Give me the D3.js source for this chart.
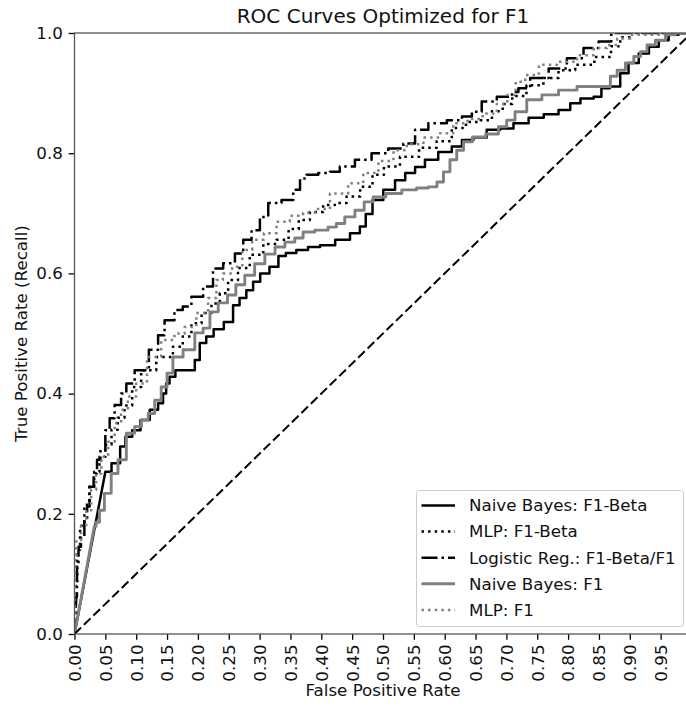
<!DOCTYPE html>
<html>
<head>
<meta charset="utf-8">
<script src="https://cdn.jsdelivr.net/npm/d3@7"></script>
<style>
  body { margin: 0; background: #fff; }
  svg { display: block; font-family: "DejaVu Sans", sans-serif; }
  .axis text { font-size: 16.7px; fill: #111; font-family: "DejaVu Sans", sans-serif; }
</style>
</head>
<body>
<svg width="686" height="710"></svg>
<script>
// values: [false positive rate, true positive rate]
const nbBeta = [
  [0, 0], [0.05, 0.27], [0.07, 0.284], [0.078, 0.312], [0.087, 0.328], [0.1, 0.339],
  [0.114, 0.356], [0.13, 0.373], [0.141, 0.384], [0.146, 0.4], [0.151, 0.417],
  [0.157, 0.428], [0.17, 0.439], [0.192, 0.439], [0.198, 0.456], [0.208, 0.484],
  [0.219, 0.495], [0.232, 0.507], [0.252, 0.519], [0.262, 0.547], [0.273, 0.559],
  [0.284, 0.572], [0.295, 0.586], [0.307, 0.6], [0.325, 0.611], [0.336, 0.629],
  [0.349, 0.634], [0.37, 0.639], [0.387, 0.644], [0.409, 0.647], [0.436, 0.656],
  [0.457, 0.667], [0.468, 0.678], [0.476, 0.699], [0.49, 0.722], [0.511, 0.739],
  [0.528, 0.755], [0.544, 0.767], [0.56, 0.777], [0.576, 0.789], [0.603, 0.802],
  [0.62, 0.811], [0.636, 0.822], [0.657, 0.826], [0.679, 0.839], [0.701, 0.841],
  [0.722, 0.85], [0.75, 0.859], [0.771, 0.865], [0.798, 0.872], [0.809, 0.883],
  [0.831, 0.891], [0.852, 0.894], [0.856, 0.908], [0.879, 0.911], [0.89, 0.933],
  [0.906, 0.95], [0.923, 0.966], [0.939, 0.977], [0.955, 0.988], [0.971, 0.997],
  [0.987, 1.0], [1, 1]
];

const mlpBeta = [
  [0, 0], [0.003, 0.08], [0.006, 0.14], [0.012, 0.18], [0.02, 0.215], [0.028, 0.245],
  [0.036, 0.27], [0.045, 0.295], [0.055, 0.315], [0.065, 0.34], [0.075, 0.36],
  [0.087, 0.38], [0.1, 0.411], [0.116, 0.439], [0.149, 0.461], [0.17, 0.478],
  [0.181, 0.495], [0.198, 0.517], [0.214, 0.534], [0.23, 0.55], [0.241, 0.567],
  [0.257, 0.589], [0.273, 0.609], [0.295, 0.631], [0.317, 0.649], [0.338, 0.656],
  [0.356, 0.674], [0.371, 0.689], [0.392, 0.702], [0.414, 0.714], [0.43, 0.717],
  [0.452, 0.728], [0.474, 0.744], [0.492, 0.764], [0.511, 0.778], [0.544, 0.794],
  [0.573, 0.809], [0.601, 0.82], [0.622, 0.842], [0.647, 0.852], [0.668, 0.855],
  [0.685, 0.87], [0.703, 0.882], [0.716, 0.895], [0.749, 0.913], [0.771, 0.925],
  [0.798, 0.938], [0.825, 0.947], [0.86, 0.96], [0.879, 0.978], [0.89, 0.993],
  [0.909, 1.0], [1, 1]
];

const logReg = [
  [0, 0], [0.003, 0.062], [0.005, 0.112], [0.008, 0.145], [0.013, 0.162], [0.019, 0.19],
  [0.022, 0.212], [0.027, 0.245], [0.035, 0.267], [0.038, 0.29], [0.046, 0.306],
  [0.054, 0.339], [0.06, 0.359], [0.07, 0.381], [0.081, 0.4], [0.087, 0.417],
  [0.108, 0.439], [0.133, 0.473], [0.138, 0.497], [0.154, 0.522], [0.17, 0.539],
  [0.181, 0.545], [0.198, 0.561], [0.219, 0.578], [0.23, 0.608], [0.252, 0.617],
  [0.268, 0.633], [0.279, 0.656], [0.295, 0.672], [0.306, 0.694], [0.322, 0.717],
  [0.349, 0.722], [0.36, 0.739], [0.371, 0.758], [0.381, 0.764], [0.409, 0.767],
  [0.419, 0.769], [0.441, 0.778], [0.468, 0.789], [0.495, 0.8], [0.522, 0.808],
  [0.544, 0.816], [0.56, 0.839], [0.587, 0.85], [0.62, 0.855], [0.636, 0.861],
  [0.652, 0.869], [0.668, 0.886], [0.701, 0.894], [0.717, 0.902], [0.722, 0.908],
  [0.755, 0.925], [0.782, 0.941], [0.814, 0.958], [0.836, 0.975], [0.863, 0.986],
  [0.877, 1.0], [1, 1]
];

const nbF1 = [
  [0, 0], [0.032, 0.179], [0.038, 0.186], [0.043, 0.206], [0.054, 0.234], [0.065, 0.267],
  [0.076, 0.29], [0.092, 0.334], [0.103, 0.345], [0.114, 0.356], [0.125, 0.367],
  [0.135, 0.389], [0.146, 0.411], [0.154, 0.434], [0.165, 0.461], [0.187, 0.473],
  [0.203, 0.501], [0.214, 0.509], [0.225, 0.536], [0.241, 0.551], [0.255, 0.564],
  [0.268, 0.581], [0.284, 0.597], [0.3, 0.616], [0.317, 0.632], [0.333, 0.644],
  [0.349, 0.652], [0.365, 0.659], [0.376, 0.669], [0.403, 0.672], [0.419, 0.677],
  [0.43, 0.683], [0.446, 0.694], [0.463, 0.705], [0.476, 0.719], [0.492, 0.727],
  [0.517, 0.733], [0.544, 0.739], [0.565, 0.742], [0.582, 0.744], [0.593, 0.752],
  [0.603, 0.769], [0.614, 0.789], [0.625, 0.805], [0.636, 0.819], [0.654, 0.827],
  [0.679, 0.832], [0.695, 0.844], [0.706, 0.855], [0.722, 0.869], [0.744, 0.889],
  [0.771, 0.897], [0.798, 0.905], [0.831, 0.911], [0.863, 0.911], [0.874, 0.928],
  [0.885, 0.938], [0.901, 0.95], [0.912, 0.961], [0.923, 0.969], [0.933, 0.98],
  [0.95, 0.988], [0.966, 0.997], [0.982, 1.0], [1, 1]
];

const mlpF1 = [
  [0, 0], [0.001, 0.13], [0.005, 0.156], [0.016, 0.179], [0.022, 0.206], [0.032, 0.24],
  [0.038, 0.267], [0.049, 0.295], [0.06, 0.32], [0.07, 0.351], [0.081, 0.373],
  [0.092, 0.395], [0.108, 0.417], [0.127, 0.461], [0.154, 0.489], [0.17, 0.5],
  [0.187, 0.511], [0.208, 0.534], [0.225, 0.559], [0.235, 0.589], [0.246, 0.6],
  [0.265, 0.611], [0.279, 0.639], [0.297, 0.656], [0.317, 0.667], [0.338, 0.686],
  [0.36, 0.696], [0.381, 0.701], [0.398, 0.707], [0.43, 0.733], [0.457, 0.75],
  [0.479, 0.767], [0.506, 0.787], [0.528, 0.805], [0.549, 0.815], [0.582, 0.826],
  [0.603, 0.833], [0.625, 0.85], [0.649, 0.857], [0.674, 0.866], [0.695, 0.882],
  [0.708, 0.897], [0.722, 0.919], [0.739, 0.93], [0.766, 0.947], [0.798, 0.952],
  [0.831, 0.963], [0.852, 0.975], [0.874, 0.98], [0.885, 0.991], [0.917, 0.997],
  [1, 1]
];

const chance = [[0, 0], [1, 1]];

const xTicks = [0, 0.05, 0.1, 0.15, 0.2, 0.25, 0.3, 0.35, 0.4, 0.45, 0.5,
  0.55, 0.6, 0.65, 0.7, 0.75, 0.8, 0.85, 0.9, 0.95];
const yTicks = [0, 0.2, 0.4, 0.6, 0.8, 1.0];

const seriesNames = ["Naive Bayes: F1-Beta", "MLP: F1-Beta", "Logistic Reg.: F1-Beta/F1",
  "Naive Bayes: F1", "MLP: F1"];

const svg = d3.select("svg");
const margin = { top: 33, left: 74.5 };
const innerWidth = 617;
const innerHeight = 601;

const xScale = d3.scaleLinear().domain([0, 1]).range([0, innerWidth]);
const yScale = d3.scaleLinear().domain([0, 1]).range([innerHeight, 0]);

const g = svg.append("g")
  .attr("transform", `translate(${margin.left}, ${margin.top})`);

// line styles (matplotlib look at 120 dpi)
const styles = [
  { data: nbBeta, color: "#000", width: 2.5, dash: null },
  { data: mlpBeta, color: "#000", width: 2.5, dash: "2.5,4.1" },
  { data: logReg, color: "#000", width: 2.5, dash: "16,4,2.5,4" },
  { data: nbF1, color: "#808080", width: 2.9, dash: null },
  { data: mlpF1, color: "#808080", width: 2.5, dash: "2.5,4.1" }
];

g.append("clipPath").attr("id", "plotclip")
  .append("rect").attr("width", innerWidth).attr("height", innerHeight);

const stepLine = d3.line()
  .x((d) => xScale(d[0]))
  .y((d) => yScale(d[1]))
  .curve(d3.curveStep);

// first segment straight from the origin, the rest as small steps
const rocPath = (pts) => {
  const p0 = pts[0];
  return `M${xScale(p0[0])},${yScale(p0[1])}L` + stepLine(pts.slice(1)).slice(1);
};

const plot = g.append("g").attr("clip-path", "url(#plotclip)");

plot.selectAll(".roc")
  .data(styles)
  .enter()
  .append("path")
  .attr("class", "roc")
  .attr("d", (d) => rocPath(d.data))
  .attr("fill", "none")
  .attr("stroke", (d) => d.color)
  .attr("stroke-width", (d) => d.width)
  .attr("stroke-dasharray", (d) => d.dash)
  .attr("stroke-linejoin", "round");

plot.append("path")
  .attr("d", d3.line().x((d) => xScale(d[0])).y((d) => yScale(d[1]))(chance))
  .attr("fill", "none")
  .attr("stroke", "#000")
  .attr("stroke-width", 2)
  .attr("stroke-dasharray", "9.2,4");

// axes
const xAxis = d3.axisBottom(xScale)
  .tickValues(xTicks)
  .tickFormat(d3.format(".2f"))
  .tickSize(5.8)
  .tickPadding(5.8);

const xAxisG = g.append("g")
  .attr("class", "axis")
  .attr("transform", `translate(0, ${innerHeight})`)
  .call(xAxis);
xAxisG.select(".domain").remove();
xAxisG.selectAll(".tick line").attr("stroke", "#000").attr("stroke-width", 1.3);
xAxisG.selectAll(".tick text")
  .attr("transform", "rotate(-90)")
  .attr("text-anchor", "end")
  .attr("x", -10.5)
  .attr("y", 0)
  .attr("dy", "0.35em");

const yAxis = d3.axisLeft(yScale)
  .tickValues(yTicks)
  .tickFormat(d3.format(".1f"))
  .tickSize(5.8)
  .tickPadding(5.8);

const yAxisG = g.append("g").attr("class", "axis").call(yAxis);
yAxisG.select(".domain").remove();
yAxisG.selectAll(".tick line").attr("stroke", "#000").attr("stroke-width", 1.3);

// spines
g.append("rect")
  .attr("width", innerWidth)
  .attr("height", innerHeight)
  .attr("fill", "none")
  .attr("stroke", "#555")
  .attr("stroke-width", 1.3);

// labels
g.append("text")
  .attr("x", innerWidth / 2)
  .attr("y", innerHeight + 62)
  .attr("text-anchor", "middle")
  .attr("font-size", 16.7)
  .attr("fill", "#111")
  .text("False Positive Rate");

g.append("text")
  .attr("transform", `translate(-48, ${innerHeight / 2}) rotate(-90)`)
  .attr("text-anchor", "middle")
  .attr("font-size", 16.7)
  .attr("fill", "#111")
  .text("True Positive Rate (Recall)");

g.append("text")
  .attr("x", innerWidth / 2)
  .attr("y", -10)
  .attr("text-anchor", "middle")
  .attr("font-size", 20)
  .attr("fill", "#111")
  .text("ROC Curves Optimized for F1");

// legend
const legendG = svg.append("g").attr("transform", "translate(416.5, 490.5)");
legendG.append("rect")
  .attr("width", 267)
  .attr("height", 136)
  .attr("rx", 3)
  .attr("fill", "#fff")
  .attr("fill-opacity", 0.8)
  .attr("stroke", "#ccc")
  .attr("stroke-width", 1);

const legend = legendG.selectAll("g.legend")
  .data(styles)
  .enter()
  .append("g")
  .attr("class", "legend")
  .attr("transform", (d, i) => `translate(0, ${15 + i * 26.1})`);

legend.append("line")
  .attr("x1", 5)
  .attr("x2", 38.5)
  .attr("stroke", (d) => d.color)
  .attr("stroke-width", (d) => d.width)
  .attr("stroke-dasharray", (d) => d.dash);

legend.append("text")
  .attr("x", 52.5)
  .attr("dy", "0.35em")
  .attr("font-size", 16.7)
  .attr("fill", "#111")
  .text((d, i) => seriesNames[i]);
</script>
</body>
</html>
